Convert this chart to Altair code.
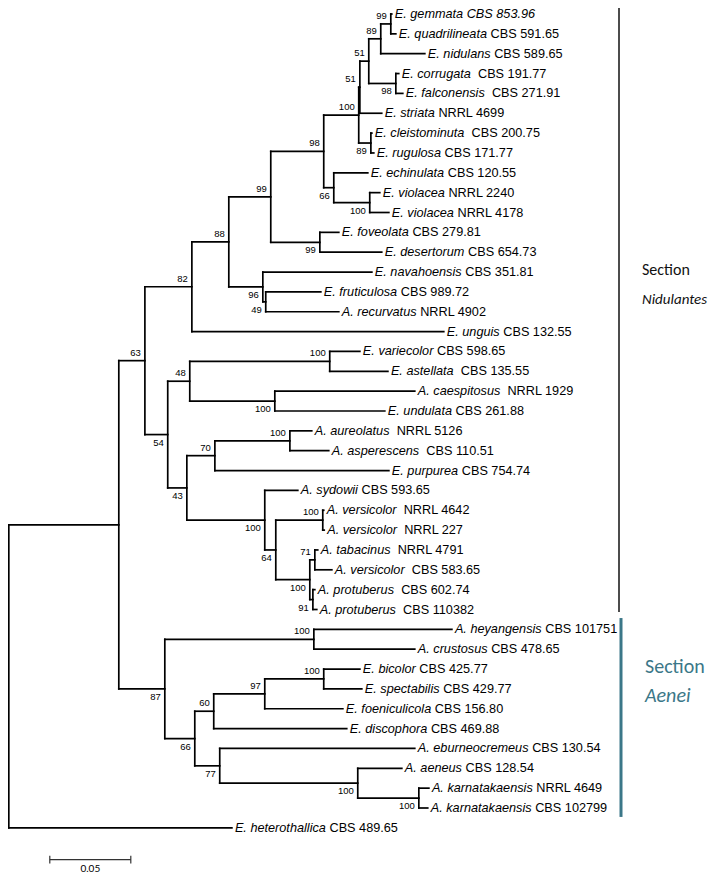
import altair as alt
import pandas as pd

# ---------------- data ----------------
# leaves, top to bottom
leaf_taxon = [
    "E. gemmata CBS 853.96", "E. quadrilineata", "E. nidulans", "E. corrugata", "E. falconensis",
    "E. striata", "E. cleistominuta", "E. rugulosa", "E. echinulata", "E. violacea",
    "E. violacea", "E. foveolata", "E. desertorum", "E. navahoensis", "E. fruticulosa",
    "A. recurvatus", "E. unguis", "E. variecolor", "E. astellata", "A. caespitosus",
    "E. undulata", "A. aureolatus", "A. asperescens", "E. purpurea", "A. sydowii",
    "A. versicolor", "A. versicolor", "A. tabacinus", "A. versicolor", "A. protuberus",
    "A. protuberus", "A. heyangensis", "A. crustosus", "E. bicolor", "E. spectabilis",
    "E. foeniculicola", "E. discophora", "A. eburneocremeus", "A. aeneus", "A. karnatakaensis",
    "A. karnatakaensis", "E. heterothallica",
]
leaf_strain = [
    "", "CBS 591.65", "CBS 589.65", "CBS 191.77", "CBS 271.91",
    "NRRL 4699", "CBS 200.75", "CBS 171.77", "CBS 120.55", "NRRL 2240",
    "NRRL 4178", "CBS 279.81", "CBS 654.73", "CBS 351.81", "CBS 989.72",
    "NRRL 4902", "CBS 132.55", "CBS 598.65", "CBS 135.55", "NRRL 1929",
    "CBS 261.88", "NRRL 5126", "CBS 110.51", "CBS 754.74", "CBS 593.65",
    "NRRL 4642", "NRRL 227", "NRRL 4791", "CBS 583.65", "CBS 602.74",
    "CBS 110382", "CBS 101751", "CBS 478.65", "CBS 425.77", "CBS 429.77",
    "CBS 156.80", "CBS 469.88", "CBS 130.54", "CBS 128.54", "NRRL 4649",
    "CBS 102799", "CBS 489.65",
]
leaf_parent = [
    "N99b", "N99b", "N89a", "N98b", "N98b",
    "N51l", "N89b", "N89b", "N66a", "N100b",
    "N100b", "N99c", "N99c", "N96", "N49",
    "N49", "N82", "N100c", "N100c", "N100d",
    "N100d", "N100e", "N100e", "N70", "N100f",
    "N100g", "N100g", "N71", "N71", "N91",
    "N91", "N100i", "N100i", "N100j", "N100j",
    "N97", "N60", "N77", "N100k", "N100l",
    "N100l", "root",
]
leaf_depth = [
    0.2364, 0.2389, 0.2568, 0.2407, 0.2432,
    0.2302, 0.2241, 0.2253, 0.2216, 0.2290,
    0.2346, 0.2037, 0.2302, 0.2241, 0.1926,
    0.2037, 0.2685, 0.2167, 0.2340, 0.2506,
    0.2321, 0.1870, 0.1975, 0.2346, 0.1784,
    0.1944, 0.1947, 0.1907, 0.1994, 0.1889,
    0.1901, 0.2735, 0.2506, 0.2167, 0.2179,
    0.2062, 0.2086, 0.2506, 0.2426, 0.2593,
    0.2586, 0.1377,
]
# leaves whose strain is set off by a wider gap
wide_gap = [3, 4, 6, 18, 19, 21, 22, 25, 26, 27, 28, 29, 30]

# internal nodes
node_ids = ["root", "IN", "N63", "N82", "N88", "N99a", "N98a", "N100a", "N51l", "N51u",
            "N89a", "N99b", "N98b", "N89b", "N66a", "N100b", "N99c", "N96", "N49", "N54",
            "N48", "N100c", "N100d", "N43", "N70", "N100e", "N100f", "N64", "N100g", "N100h",
            "N71", "N91", "N87", "N100i", "N66b", "N60", "N97", "N100j", "N77", "N100k",
            "N100l"]
node_parent = [None, "root", "IN", "N63", "N82", "N88", "N99a", "N98a", "N100a", "N51l",
               "N51u", "N89a", "N51u", "N100a", "N98a", "N66a", "N99a", "N88", "N96", "N63",
               "N54", "N48", "N48", "N54", "N43", "N70", "N43", "N100f", "N64", "N64",
               "N100h", "N100h", "IN", "N87", "N87", "N66b", "N60", "N97", "N66b", "N77",
               "N100k"]
node_depth = [0.0, 0.0679, 0.0840, 0.1130, 0.1358, 0.1617, 0.1944, 0.2160, 0.2167, 0.2222,
              0.2296, 0.2358, 0.2389, 0.2235, 0.2006, 0.2228, 0.1920, 0.1568, 0.1586, 0.0981,
              0.1117, 0.1981, 0.1642, 0.1099, 0.1272, 0.1735, 0.1580, 0.1648, 0.1938, 0.1858,
              0.1889, 0.1877, 0.0963, 0.1883, 0.1148, 0.1265, 0.1580, 0.1944, 0.1302, 0.2154,
              0.2531]
node_support = [None, None, 63, 82, 88, 99, 98, 100, 51, 51,
                89, 99, 98, 89, 66, 100, 99, 96, 49, 54,
                48, 100, 100, 43, 70, 100, 100, 64, 100, 100,
                71, 91, 87, 100, 66, 60, 97, 100, 77, 100,
                100]
node_side = ["", "", "above", "above", "above", "above", "above", "above", "above", "above",
             "above", "above", "below", "below", "below", "below", "below", "below", "below", "below",
             "above", "above", "below", "below", "above", "above", "below", "below", "above", "below",
             "above", "below", "below", "above", "below", "above", "above", "above", "below", "below",
             "below"]

# section brackets (rows of the leaf list)
section_title = ["Section", "Section"]
section_name = ["Nidulantes", "Aenei"]
section_row_from = [-0.8, 30.43]
section_row_to = [30.13, 40.45]
section_text_row = [12.9, 32.9]
section_color = ["#111111", "#3b7788"]

scale_bar_start = 0.0253
scale_bar_length = 0.05
scale_bar_row = 42.6

# ---------------- tree layout ----------------
WIDTH, HEIGHT = 703, 866
PX_PER_UNIT = 1620
X0 = -0.0005

children = {n: [] for n in node_ids}
ypos = {}
depth = dict(zip(node_ids, node_depth))
parent = dict(zip(node_ids, node_parent))
for i, p in enumerate(leaf_parent):
    lid = f"L{i}"
    children[p].append(lid)
    ypos[lid] = float(i)
    depth[lid] = leaf_depth[i]
    parent[lid] = p
for n, p in zip(node_ids, node_parent):
    if p is not None:
        children[p].append(n)


def get_y(n):
    if n in ypos:
        return ypos[n]
    ys = [get_y(c) for c in children[n]]
    ypos[n] = (min(ys) + max(ys)) / 2
    return ypos[n]


get_y("root")

segs = []
for n, p in parent.items():
    if p is not None:
        segs.append({"x": depth[p], "x2": depth[n], "y": ypos[n], "y2": ypos[n]})
for n in node_ids:
    ys = [ypos[c] for c in children[n]]
    segs.append({"x": depth[n], "x2": depth[n], "y": min(ys), "y2": max(ys)})
seg_df = pd.DataFrame(segs)

# text widths (Arial / Liberation Sans metrics)
W = {' ': 278, '.': 278, 'A': 667, 'B': 667, 'C': 722, 'E': 667, 'L': 556, 'N': 722,
     'R': 722, 'S': 667, 'a': 556, 'b': 556, 'c': 500, 'd': 556, 'e': 556, 'f': 278,
     'g': 556, 'h': 556, 'i': 222, 'j': 222, 'k': 500, 'l': 222, 'm': 833, 'n': 556,
     'o': 556, 'p': 556, 'q': 556, 'r': 333, 's': 500, 't': 278, 'u': 556, 'v': 500,
     'w': 722, 'x': 500, 'y': 500, 'z': 500}
FS = 12.7


def tw(s):
    return sum(W.get(c, 556) for c in s) * FS / 1000


leaf_rows = []
for i in range(len(leaf_taxon)):
    gap = "  " if i in wide_gap else " "
    off_px = 3 + tw(leaf_taxon[i] + gap)
    leaf_rows.append({"x": leaf_depth[i], "y": float(i), "taxon": leaf_taxon[i],
                      "strain": leaf_strain[i], "xs": leaf_depth[i] + off_px / PX_PER_UNIT})
leaf_df = pd.DataFrame(leaf_rows)

sup_rows = []
for n, s, side in zip(node_ids, node_support, node_side):
    if s is not None:
        sup_rows.append({"x": depth[n], "y": ypos[n], "label": str(s), "side": side})
sup_df = pd.DataFrame(sup_rows)

sec_df = pd.DataFrame({"title": section_title, "name": section_name, "r0": section_row_from,
                       "r1": section_row_to, "rt": section_text_row, "color": section_color})
sec_df["rn"] = sec_df["rt"] + 1.45

bar_df = pd.DataFrame({"x": [scale_bar_start], "x2": [scale_bar_start + scale_bar_length],
                       "y": [scale_bar_row], "label": ["0.05"]})
bar_df["xm"] = bar_df["x"] + scale_bar_length / 2
bar_df["ylab"] = bar_df["y"] + 0.47
tick_df = pd.DataFrame({"x": [scale_bar_start, scale_bar_start + scale_bar_length],
                        "y": [scale_bar_row - 0.2] * 2, "y2": [scale_bar_row + 0.2] * 2})

# ---------------- chart ----------------
xs = alt.Scale(domain=[X0, X0 + WIDTH / PX_PER_UNIT], nice=False, zero=False)
ys = alt.Scale(domain=[-6 / 19.85, (HEIGHT - 6) / 19.85], reverse=True, nice=False, zero=False)
X = lambda f: alt.X(f, type="quantitative", scale=xs, axis=None)
Y = lambda f: alt.Y(f, type="quantitative", scale=ys, axis=None)

tree = alt.Chart(seg_df).mark_rule(color="black", strokeWidth=1.7, strokeCap="square").encode(
    x=X("x"), x2="x2", y=Y("y"), y2="y2")

taxa = alt.Chart(leaf_df).mark_text(font="Liberation Sans", fontSize=FS, fontStyle="italic",
                                    align="left", baseline="middle", dx=3, color="black").encode(
    x=X("x"), y=Y("y"), text="taxon:N")
strains = alt.Chart(leaf_df).mark_text(font="Liberation Sans", fontSize=FS,
                                       align="left", baseline="middle", color="black").encode(
    x=X("xs"), y=Y("y"), text="strain:N")

sup_above = alt.Chart(sup_df).transform_filter("datum.side == 'above'").mark_text(
    font="Liberation Sans", fontSize=9.5, align="right", baseline="middle", dx=-4, dy=-8,
    color="black").encode(x=X("x"), y=Y("y"), text="label:N")
sup_below = alt.Chart(sup_df).transform_filter("datum.side == 'below'").mark_text(
    font="Liberation Sans", fontSize=9.5, align="right", baseline="middle", dx=-4, dy=8,
    color="black").encode(x=X("x"), y=Y("y"), text="label:N")

SEC_FONT = "Carlito, Lato"
sec_black = sec_df[sec_df["name"] == "Nidulantes"]
sec_teal = sec_df[sec_df["name"] == "Aenei"]
sec_line1 = alt.Chart(sec_black).mark_rule(strokeWidth=1.5).encode(
    x=alt.value(611), y=Y("r0"), y2="r1", color=alt.Color("color:N", scale=None))
sec_line2 = alt.Chart(sec_teal).mark_rule(strokeWidth=3).encode(
    x=alt.value(613), y=Y("r0"), y2="r1", color=alt.Color("color:N", scale=None))
sec_t1 = alt.Chart(sec_black).mark_text(font=SEC_FONT, fontSize=16, align="left", baseline="middle").encode(
    x=alt.value(634), y=Y("rt"), text="title:N", color=alt.Color("color:N", scale=None))
sec_n1 = alt.Chart(sec_black).mark_text(font=SEC_FONT, fontSize=15, fontStyle="italic", align="left",
                                        baseline="middle").encode(
    x=alt.value(634), y=Y("rn"), text="name:N", color=alt.Color("color:N", scale=None))
sec_t2 = alt.Chart(sec_teal).mark_text(font=SEC_FONT, fontSize=20, align="left", baseline="middle").encode(
    x=alt.value(637), y=Y("rt"), text="title:N", color=alt.Color("color:N", scale=None))
sec_n2 = alt.Chart(sec_teal).mark_text(font=SEC_FONT, fontSize=20, fontStyle="italic", align="left",
                                       baseline="middle").encode(
    x=alt.value(637), y=Y("rn"), text="name:N", color=alt.Color("color:N", scale=None))

bar = alt.Chart(bar_df).mark_rule(color="#333333", strokeWidth=1.2).encode(
    x=X("x"), x2="x2", y=Y("y"))
bar_ticks = alt.Chart(tick_df).mark_rule(color="#333333", strokeWidth=1.2).encode(
    x=X("x"), y=Y("y"), y2="y2")
bar_lab = alt.Chart(bar_df).mark_text(font="Lato", fontSize=10, align="center", baseline="middle",
                                      color="black").encode(
    x=X("xm"), y=Y("ylab"), text="label:N")

chart = alt.layer(tree, taxa, strains, sup_above, sup_below, sec_line1, sec_line2,
                  sec_t1, sec_n1, sec_t2, sec_n2, bar, bar_ticks, bar_lab).properties(
    width=WIDTH, height=HEIGHT, padding=0, autosize="none",
    background="white").configure_view(stroke=None)

chart.save("out.html", embed_options={"renderer": "svg", "actions": False})
